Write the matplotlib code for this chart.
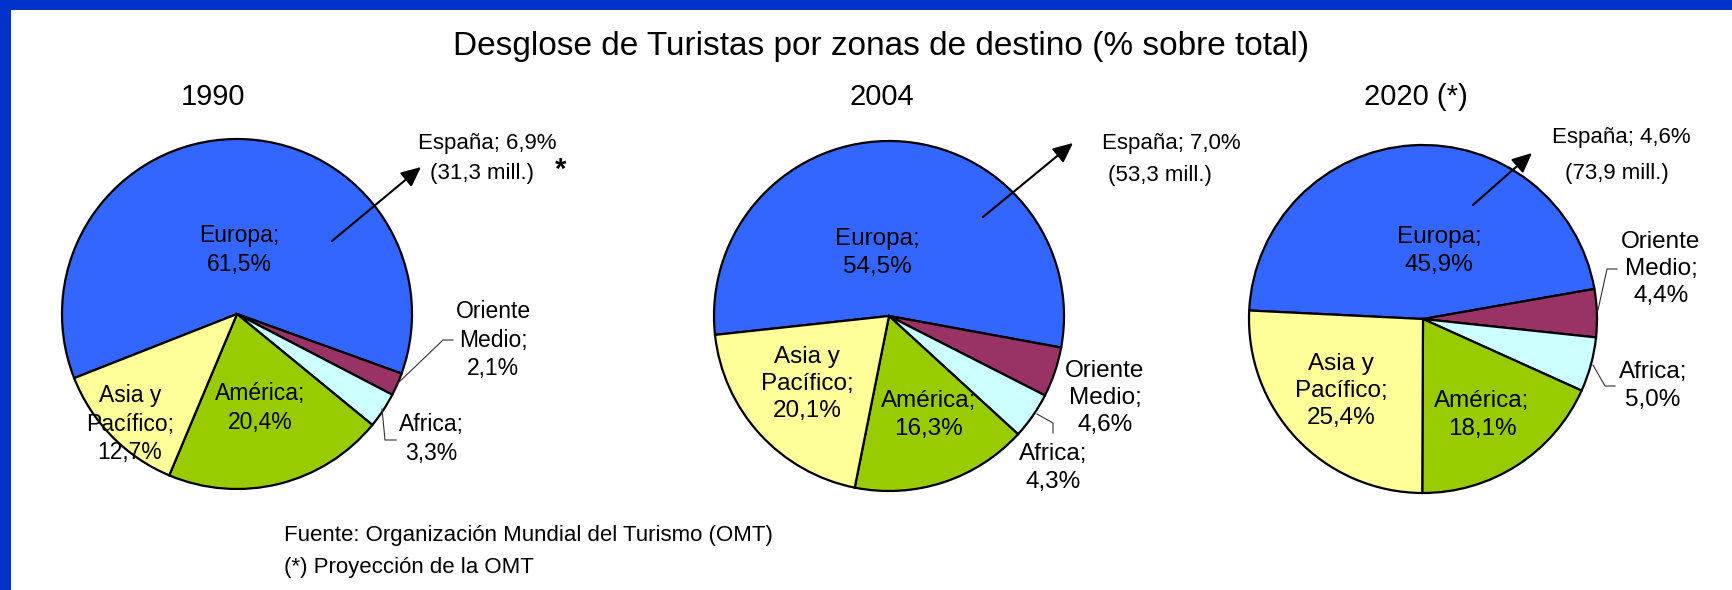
import matplotlib.pyplot as plt
from matplotlib.patches import Rectangle

# data
zonas = ['Europa', 'Oriente Medio', 'Africa', 'América', 'Asia y Pacífico']
pct_1990 = [61.5, 2.1, 3.3, 20.4, 12.7]
pct_2004 = [54.5, 4.6, 4.3, 16.3, 20.1]
pct_2020 = [45.9, 4.4, 5.0, 18.1, 25.4]
years = ['1990', '2004', '2020 (*)']
espana_pct = [6.9, 7.0, 4.6]
espana_mill = [31.3, 53.3, 73.9]

colors = ['#3366FF', '#993366', '#CCFFFF', '#99CC00', '#FFFF99']
label_names = ['Europa;', 'Oriente\nMedio;', 'Africa;', 'América;', 'Asia y\nPacífico;']

W, H = 1733, 590
plt.rcParams['font.family'] = ['Liberation Sans', 'DejaVu Sans']

fig = plt.figure(figsize=(W / 100, H / 100), dpi=100)
ax = fig.add_axes([0, 0, 1, 1])


def Y(y):
    # pixel row (from top) -> data y
    return H - y


def fmt(v):
    return f'{v:.1f}'.replace('.', ',') + '%'


# layout of each pie (pixel coords from the top-left)
pies = [
    dict(vals=pct_1990, cx=237, cy=314, r=175, start=201.5, fs=16.5, ls=1.3,
         lab=[(239, 250), (493, 340), (431, 439), (260, 408), (130, 424)],
         arrow=((332, 241), (421, 167)),
         esp=[(487, 143), (482, 173)],
         leaders=[[(396, 385), (443, 340), (453, 340)],
                  [(382, 409), (385, 440), (396, 440)]]),
    dict(vals=pct_2004, cx=889, cy=316, r=175, start=186.2, fs=17.5, ls=1.3,
         lab=[(877, 253), (1105, 398), (1053, 468), (929, 415), (807, 384)],
         arrow=((983, 217), (1073, 143)),
         esp=[(1171, 144), (1160, 175)],
         leaders=[[(1037, 414), (1053, 423), (1053, 433)]]),
    dict(vals=pct_2020, cx=1423, cy=319, r=174, start=177.2, fs=17.5, ls=1.3,
         lab=[(1439, 251), (1661, 269), (1653, 386), (1482, 415), (1341, 391)],
         arrow=((1473, 205), (1532, 153)),
         esp=[(1621, 137), (1617, 173)],
         leaders=[[(1598, 310), (1607, 269), (1617, 269)],
                  [(1593, 365), (1605, 386), (1615, 386)]]),
]
year_x = [213, 882, 1416]

for i, p in enumerate(pies):
    ax.pie(p['vals'], colors=colors, startangle=p['start'], counterclock=False,
           center=(p['cx'], Y(p['cy'])), radius=p['r'], frame=True,
           wedgeprops=dict(edgecolor='black', linewidth=1.6))
    for name, v, (lx, ly) in zip(label_names, p['vals'], p['lab']):
        ax.text(lx, Y(ly), name + '\n' + fmt(v), ha='center', va='center',
                fontsize=p['fs'], linespacing=p['ls'])
    for pts in p['leaders']:
        ax.plot([q[0] for q in pts], [Y(q[1]) for q in pts], color='#333333', lw=0.8)
    (tx, ty), (hx, hy) = p['arrow']
    ax.annotate('', xy=(hx, Y(hy)), xytext=(tx, Y(ty)),
                arrowprops=dict(arrowstyle='-|>,head_length=1.2,head_width=0.55',
                                color='black', lw=1.5, shrinkA=0, shrinkB=0))
    ax.text(p['esp'][0][0], Y(p['esp'][0][1]), f'España; {fmt(espana_pct[i])}',
            ha='center', va='center', fontsize=16)
    ax.text(p['esp'][1][0], Y(p['esp'][1][1]),
            f"({str(espana_mill[i]).replace('.', ',')} mill.)",
            ha='center', va='center', fontsize=16)
    ax.text(year_x[i], Y(97), years[i], ha='center', va='center', fontsize=21)

ax.text(561, Y(170), '*', ha='center', va='center', fontsize=21, fontweight='bold')

ax.text(881, Y(46), 'Desglose de Turistas por zonas de destino (% sobre total)',
        ha='center', va='center', fontsize=24)
ax.text(284, Y(536), 'Fuente: Organización Mundial del Turismo (OMT)',
        ha='left', va='center', fontsize=16)
ax.text(284, Y(568), '(*) Proyección de la OMT', ha='left', va='center', fontsize=16)

# blue frame (top and left bars)
ax.add_patch(Rectangle((0, Y(10)), W, 10, color='#0033CC', lw=0))
ax.add_patch(Rectangle((0, 0), 11, H, color='#0033CC', lw=0))

ax.set_xlim(0, W)
ax.set_ylim(0, H)
ax.set_aspect('auto')
ax.set_axis_off()

fig.savefig('out.png', dpi=100, facecolor='white')
